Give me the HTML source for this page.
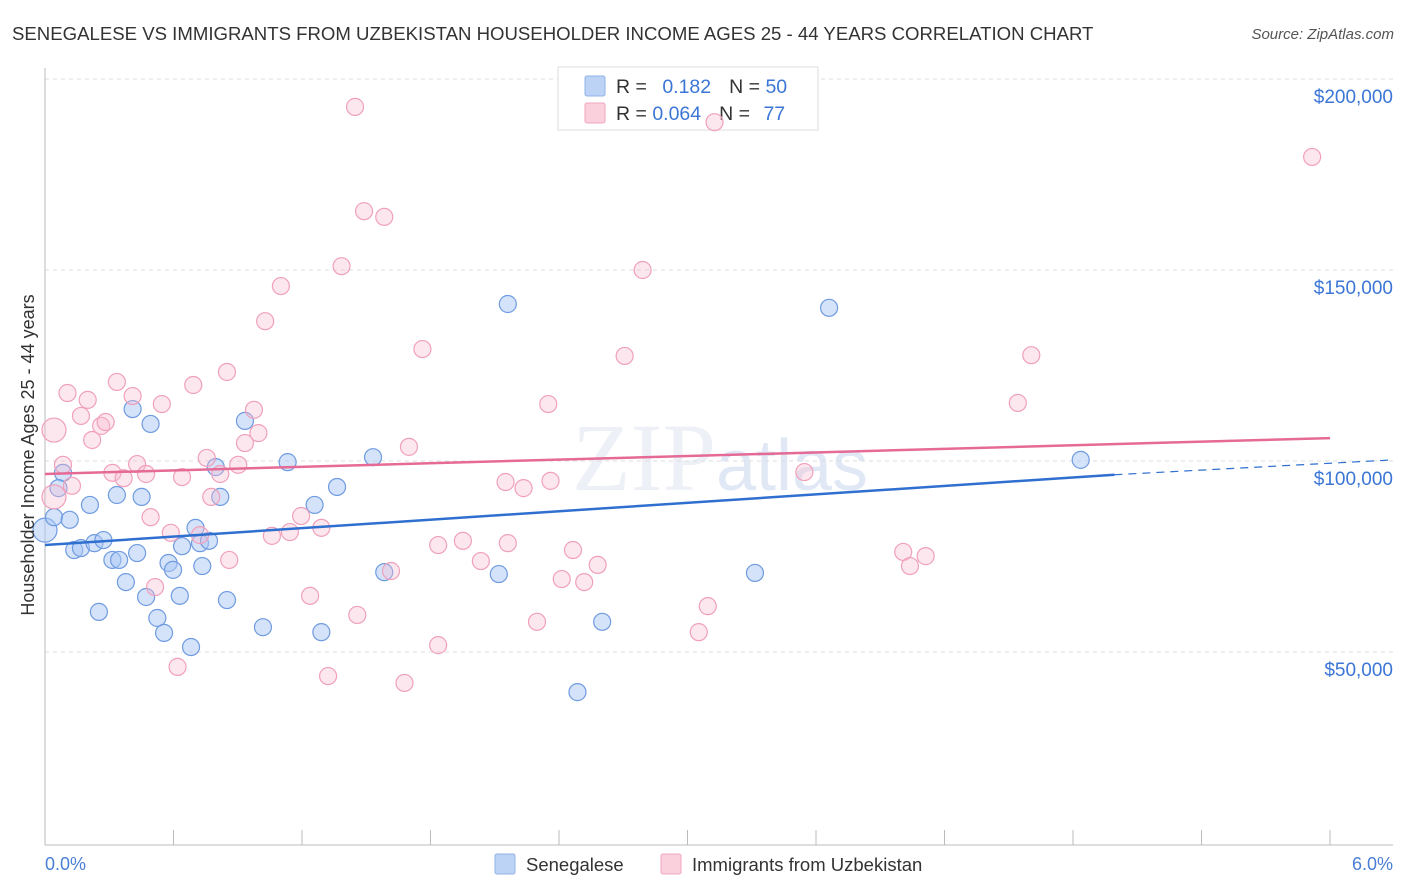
<!DOCTYPE html>
<html><head><meta charset="utf-8"><style>
body{margin:0;background:#fff;font-family:"Liberation Sans",sans-serif;}
svg{display:block}
</style></head><body>
<svg id="chart" width="1406" height="892" xmlns="http://www.w3.org/2000/svg">
<text x="12" y="40" font-size="18.6" fill="#333">SENEGALESE VS IMMIGRANTS FROM UZBEKISTAN HOUSEHOLDER INCOME AGES 25 - 44 YEARS CORRELATION CHART</text>
<text x="1394" y="39" font-size="15" fill="#555" font-style="italic" text-anchor="end">Source: ZipAtlas.com</text>
<text x="720" y="490" font-size="96" fill="#ccd6e6" opacity="0.35" text-anchor="middle" font-family="Liberation Serif,serif">ZIP<tspan font-family="Liberation Sans,sans-serif" font-size="72" fill="#a8c0e8">atlas</tspan></text>
<g id="grid"></g>
<g id="axes"></g>
<g>
<rect x="558" y="67" width="260" height="63" fill="#fff" stroke="#ddd"/>
<rect x="585" y="76" width="20" height="20" fill="#bcd3f5" stroke="#8fb0e6" rx="2"/>
<rect x="585" y="103" width="20" height="20" fill="#fbd0dd" stroke="#f0a5be" rx="2"/>
<text x="616" y="93" font-size="19.5" fill="#333">R = <tspan fill="#3b76d6" dx="10">0.182</tspan><tspan dx="18" fill="#333">N = </tspan><tspan fill="#3b76d6">50</tspan></text>
<text x="616" y="120" font-size="19.5" fill="#333">R = <tspan fill="#3b76d6">0.064</tspan><tspan dx="18" fill="#333">N = </tspan><tspan fill="#3b76d6" dx="8">77</tspan></text>
</g>
<g id="marks"></g>
<g id="trends"></g>
<text transform="translate(34,455) rotate(-90)" font-size="18" fill="#333" text-anchor="middle">Householder Income Ages 25 - 44 years</text>
<text x="45" y="870" font-size="18" fill="#4a7fd6">0.0%</text>
<text x="1393" y="870" font-size="18" fill="#4a7fd6" text-anchor="end">6.0%</text>
<g>
<rect x="495" y="854" width="20" height="20" fill="#bcd3f5" stroke="#8fb0e6" rx="2"/>
<text x="526" y="871" font-size="18.5" fill="#333">Senegalese</text>
<rect x="661" y="854" width="20" height="20" fill="#fbd0dd" stroke="#f0a5be" rx="2"/>
<text x="692" y="871" font-size="18.5" fill="#333">Immigrants from Uzbekistan</text>
</g>
</svg>
<script>
const yTicks=[50000,100000,150000,200000];
const yTickLabels=["$50,000","$100,000","$150,000","$200,000"];
const blueX=[0.00,0.04,0.08,0.06,0.11,0.13,0.16,0.20,0.22,0.24,0.26,0.30,0.32,0.33,0.36,0.39,0.41,0.43,0.45,0.47,0.50,0.53,0.55,0.57,0.60,0.61,0.65,0.67,0.69,0.70,0.73,0.76,0.78,0.81,0.89,0.97,1.08,1.20,1.23,1.30,1.46,1.51,2.02,2.06,2.37,2.48,3.16,3.49,4.61];
const blueY=[81.9,85.3,96.9,92.9,84.6,76.7,77.2,88.5,78.5,60.5,79.3,74.1,91.1,74.1,68.3,113.6,75.9,90.6,64.4,109.7,58.9,55.0,73.3,71.5,64.7,77.7,51.3,82.5,78.5,72.5,79.1,98.4,90.6,63.6,110.5,56.5,99.7,88.5,55.2,93.2,101.0,70.9,70.4,141.1,39.5,57.9,70.7,140.1,100.3];
const pinkX=[0.04,0.04,0.08,0.10,0.12,0.16,0.19,0.21,0.25,0.27,0.30,0.32,0.35,0.39,0.41,0.45,0.47,0.49,0.52,0.56,0.59,0.61,0.66,0.69,0.72,0.74,0.78,0.81,0.82,0.86,0.89,0.93,0.95,0.98,1.01,1.05,1.09,1.14,1.18,1.23,1.26,1.32,1.38,1.39,1.42,1.51,1.54,1.60,1.62,1.68,1.75,1.75,1.86,1.94,2.05,2.06,2.13,2.19,2.24,2.25,2.30,2.35,2.40,2.46,2.58,2.66,2.91,2.95,2.98,3.38,3.82,3.85,3.92,4.33,4.39,5.64];
const pinkY=[108.1,90.6,99.0,117.8,93.5,111.8,116.0,105.5,109.2,110.2,96.9,120.7,95.5,117.0,99.2,96.6,85.3,67.0,114.9,81.2,46.1,95.8,119.9,80.6,100.8,90.6,96.6,123.3,74.1,99.0,104.7,113.4,107.3,136.6,80.4,145.8,81.4,85.6,64.7,82.5,43.7,151.0,192.7,59.7,165.4,163.9,71.2,41.9,103.7,129.3,78.0,51.8,79.1,73.8,94.5,78.5,92.9,57.9,114.9,94.8,69.1,76.7,68.3,72.8,127.5,150.0,55.2,62.0,188.7,97.1,76.2,72.5,75.1,115.2,127.7,179.6];
const blueTrend=[78.0,96.4,100.3]; // at x=0, 4.76, 6.0
const pinkTrend=[96.6,106.0]; // at x=0, 5.72
const NS='http://www.w3.org/2000/svg';
const X=v=>45+v/6*1348;
const Y=v=>843-v/100000*382;
function mk(tag,attrs,parent){const e=document.createElementNS(NS,tag);for(const k in attrs)e.setAttribute(k,attrs[k]);parent.appendChild(e);return e;}
const grid=document.getElementById('grid'),axes=document.getElementById('axes'),marks=document.getElementById('marks'),trends=document.getElementById('trends');
yTicks.forEach((t,i)=>{
 const l=mk('line',{x1:45,x2:1393,y1:Y(t),y2:Y(t),stroke:'#ddd','stroke-dasharray':'4,4'},grid);
 
 
 const tx=mk('text',{x:1393,y:Y(t)+24,'font-size':19,fill:'#3b76d6','text-anchor':'end'},axes);
 tx.textContent=yTickLabels[i];
 
 
});
const ax=mk('line',{x1:45,x2:45,y1:68,y2:845,stroke:'#bbb'},axes);


const bx=mk('line',{x1:45,x2:1393,y1:845,y2:845,stroke:'#bbb'},axes);


for(let i=1;i<=10;i++){const xp=45+i*128.5;
 const t=mk('line',{x1:xp,x2:xp,y1:830,y2:845,stroke:'#bbb'},axes);
 
 }
blueX.forEach((x,i)=>{
 const c=mk('circle',{cx:X(x),cy:Y(blueY[i]*1000),r:i===0?12:8.5,fill:'rgba(170,200,245,0.5)',stroke:'#6f9be0','stroke-width':1.2},marks);
 
 
});
pinkX.forEach((x,i)=>{
 const c=mk('circle',{cx:X(x),cy:Y(pinkY[i]*1000),r:i<2?12:8.5,fill:'rgba(248,185,205,0.35)',stroke:'#f0a0bb','stroke-width':1.2},marks);
 
 
});
const b1=mk('line',{x1:X(0),y1:Y(blueTrend[0]*1000),x2:X(4.76),y2:Y(blueTrend[1]*1000),stroke:'#2f6fd0','stroke-width':2.5},trends);


const b2=mk('line',{x1:X(4.76),y1:Y(blueTrend[1]*1000),x2:X(6),y2:Y(blueTrend[2]*1000),stroke:'#2f6fd0','stroke-width':1.2,'stroke-dasharray':'8,6'},trends);


const p1=mk('line',{x1:X(0),y1:Y(pinkTrend[0]*1000),x2:X(5.72),y2:Y(pinkTrend[1]*1000),stroke:'#e56a95','stroke-width':2.5},trends);


</script>
</body></html>
